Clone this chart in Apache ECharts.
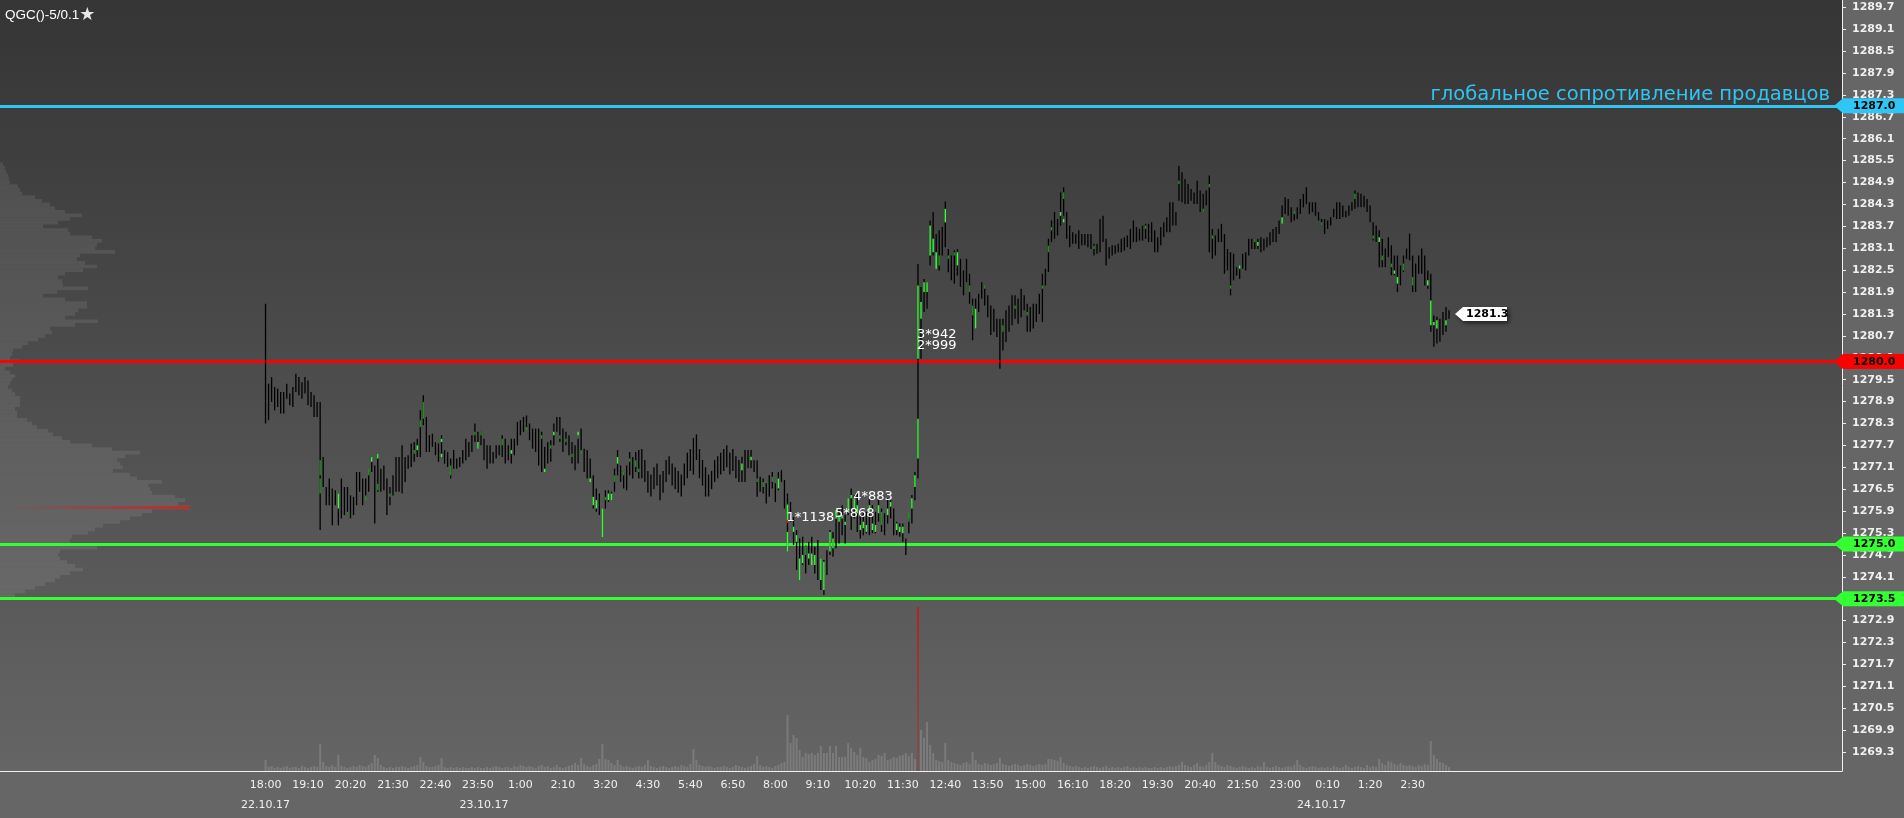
<!DOCTYPE html>
<html><head><meta charset="utf-8">
<script src="https://cdn.jsdelivr.net/npm/echarts@6/dist/echarts.min.js"></script>
<style>html,body{margin:0;padding:0;background:#666;}#c{width:1904px;height:818px;}</style>
</head><body><div id="c"></div>
<script>
const titleText = 'QGC()-5/0.1';
const timeLabels = ['18:00','19:10','20:20','21:30','22:40','23:50','1:00','2:10','3:20','4:30','5:40','6:50','8:00','9:10','10:20','11:30','12:40','13:50','15:00','16:10','18:20','19:30','20:40','21:50','23:00','0:10','1:20','2:30'];
const dateLabels = ['22.10.17','23.10.17','24.10.17'];
const dateBarIndex = [0, 72, 348];
const barHigh = [
1281.58,1279.39,1279.57,1279.30,1279.25,1279.16,1279.16,1279.39,1279.12,1279.30,
1279.66,1279.57,1279.43,1279.57,1279.48,1279.16,1279.07,1278.89,1278.89,1277.38,
1276.56,1276.79,1276.52,1276.47,1276.38,1276.79,1276.56,1276.56,1276.33,1276.29,
1276.97,1276.97,1276.79,1276.79,1276.97,1277.38,1277.15,1277.47,1277.06,1277.15,
1276.79,1276.56,1276.88,1277.38,1277.38,1277.70,1277.38,1277.43,1277.75,1277.79,
1277.88,1278.66,1279.07,1278.48,1277.98,1278.02,1277.79,1277.75,1277.98,1277.57,
1277.52,1277.34,1277.57,1277.34,1277.38,1277.57,1277.88,1277.79,1277.98,1278.30,
1278.07,1278.07,1277.88,1277.70,1277.70,1277.52,1277.70,1277.70,1277.98,1277.88,
1277.70,1277.88,1277.88,1278.34,1278.39,1278.48,1278.52,1278.30,1278.16,1278.16,
1278.16,1278.07,1277.66,1277.79,1277.84,1278.30,1278.48,1278.48,1278.16,1278.07,
1277.98,1277.79,1277.70,1277.88,1278.16,1277.61,1277.57,1277.34,1276.88,1276.52,
1276.38,1275.97,1276.47,1276.47,1276.43,1277.06,1277.57,1277.15,1276.97,1277.15,
1277.52,1277.38,1277.52,1277.57,
1277.6,1277.3,1277.0,1276.9,1277.1,1277.2,1276.9,1277.0,1277.3,1277.4,
1277.2,1277.1,1277.0,1276.9,1277.2,1277.5,1277.6,1277.9,1278.0,1277.6,
1277.3,1277.1,1276.9,1277.0,1277.3,1277.4,1277.5,1277.6,1277.7,1277.5,
1277.6,1277.4,1277.3,
1277.39,1277.57,1277.57,1277.57,1277.29,1277.29,1276.84,1276.79,1276.66,1276.88,
1276.97,1276.66,1276.97,1277.02,1276.75,1276.38,1276.15,1275.74,1275.38,1275.15,
1275.20,1274.92,1275.06,1275.20,1274.92,1275.11,1274.60,1274.56,1274.83,1275.38,
1275.33,1275.79,1275.93,1276.06,1275.79,1276.25,1276.52,1276.34,1276.38,1275.93,
1275.84,1275.88,1276.25,1276.06,1275.88,1276.25,1275.97,1275.84,1276.25,1276.20,
1275.97,1275.61,1275.56,1275.56,1275.15,1275.70,1276.34,1276.97,
1282.67,
1282.04,1282.26,1282.17,1283.86,1284.09,1283.49,1283.59,1283.68,1284.38,1283.08,
1282.90,1283.04,1283.08,1282.81,1282.49,1282.81,1282.40,1281.72,1281.72,1281.85,
1282.17,1282.04,1281.81,1281.53,1281.44,1281.17,1281.17,1281.17,1281.40,1281.53,
1281.81,1281.81,1281.72,1281.99,1281.81,1281.58,1281.49,1281.58,1281.58,1281.85,
1282.40,1282.54,1283.36,1283.86,1284.09,1283.90,1284.63,1284.77,1284.09,1283.72,
1283.54,1283.49,1283.59,1283.49,1283.49,1283.49,1283.49,1283.22,1283.22,1283.90,
1283.99,1283.36,1283.13,1283.18,1283.18,
1283.22,1283.36,1283.40,1283.45,1283.63,1283.86,1283.68,1283.63,1283.72,1283.77,
1283.77,1283.81,1283.59,1283.40,1283.68,1283.81,1283.95,1284.36,1284.36,1284.09,
1285.36,1285.18,1285.00,1284.86,1284.72,1284.63,1284.95,1284.68,1284.59,1284.68,
1285.09,1283.63,1283.45,1283.63,1283.77,1283.49,1283.08,1282.99,1282.95,1282.58,
1282.63,1282.95,1282.99,1283.36,1283.36,1283.36,1283.36,1283.40,1283.36,1283.40,
1283.54,1283.63,1283.68,1283.86,1284.27,1284.50,1284.45,1284.22,1284.13,1284.22,
1284.45,1284.59,1284.77,1284.36,1284.36,1284.36,1284.09,1283.90,1283.90,1283.86,
1283.95,1284.18,1284.36,1284.36,1284.27,1284.13,1284.27,1284.36,1284.68,1284.63,
1284.59,1284.54,1284.45,1284.27,1283.81,1283.72,
1283.59,1283.36,1283.09,1283.40,1283.18,1282.90,1282.90,1282.63,1282.90,1283.09,
1283.50,1282.90,1282.68,1282.90,1283.09,1282.90,1282.49,1282.40,1281.26,1281.22,
1281.17,1281.35,1281.49,1281.40];
const barLow = [
1278.30,1278.39,1278.89,1278.66,1278.75,1278.57,1278.57,1278.98,1278.80,1278.75,
1279.16,1279.07,1278.98,1279.12,1278.80,1278.75,1278.48,1278.48,1275.38,1276.56,
1276.06,1276.06,1275.51,1276.06,1275.51,1275.70,1275.79,1275.79,1275.70,1275.79,
1276.06,1276.43,1276.06,1276.33,1276.43,1276.97,1275.56,1276.43,1276.43,1276.47,
1275.79,1276.06,1276.33,1276.43,1276.43,1276.38,1276.70,1277.06,1277.11,1277.25,
1277.38,1277.38,1278.25,1277.52,1277.52,1277.66,1277.43,1277.25,1277.38,1277.20,
1277.11,1276.79,1277.06,1277.06,1277.11,1277.20,1277.29,1277.38,1277.52,1277.79,
1277.61,1277.70,1277.29,1277.06,1277.20,1277.20,1277.34,1277.43,1277.38,1277.20,
1277.29,1277.20,1277.43,1277.70,1277.98,1278.07,1278.20,1277.84,1277.61,1277.52,
1277.15,1276.97,1277.02,1277.20,1277.25,1277.70,1278.07,1277.79,1277.52,1277.70,
1277.43,1277.20,1277.02,1277.20,1277.52,1276.97,1276.79,1276.79,1275.97,1275.88,
1275.79,1275.19,1275.97,1276.15,1276.20,1276.43,1276.88,1276.70,1276.52,1276.47,
1276.88,1276.79,1276.97,1276.79,
1276.8,1276.7,1276.4,1276.3,1276.5,1276.6,1276.2,1276.4,1276.7,1276.9,
1276.6,1276.5,1276.4,1276.3,1276.6,1276.8,1277.0,1276.9,1277.3,1276.8,
1276.6,1276.3,1276.3,1276.5,1276.7,1276.8,1276.9,1277.0,1277.1,1276.9,
1277.0,1276.8,1276.7,
1276.70,1276.70,1277.07,1277.07,1276.97,1276.29,1276.43,1276.38,1276.11,1276.29,
1276.52,1276.15,1276.47,1276.70,1275.97,1274.79,1275.61,1274.97,1274.29,1274.01,
1274.42,1274.19,1274.42,1274.56,1274.19,1274.01,1273.74,1273.60,1274.15,1274.70,
1274.65,1274.88,1275.01,1275.24,1275.01,1275.79,1275.38,1275.70,1275.33,1275.15,
1275.24,1275.29,1275.24,1275.29,1275.29,1275.61,1275.33,1275.24,1275.56,1275.70,
1275.24,1275.24,1275.20,1275.06,1274.70,1275.29,1275.56,1276.20,
1276.79,
1280.07,1281.35,1281.44,1282.63,1282.90,1282.90,1282.49,1282.90,1283.13,1282.44,
1282.22,1282.13,1282.35,1282.04,1281.81,1282.17,1281.58,1280.58,1280.90,1281.35,
1281.72,1281.53,1281.21,1280.72,1280.81,1280.67,1279.80,1280.30,1280.53,1280.81,
1280.99,1281.17,1281.03,1281.21,1281.40,1280.81,1280.81,1280.90,1281.08,1281.30,
1281.08,1282.08,1282.45,1283.27,1283.36,1283.45,1283.72,1283.99,1283.36,1283.13,
1283.22,1283.22,1283.08,1283.18,1283.18,1283.13,1283.08,1282.90,1282.95,1282.99,
1283.27,1282.63,1282.81,1282.90,1282.95,
1282.99,1282.99,1283.04,1283.13,1283.08,1283.27,1283.27,1283.31,1283.31,1283.36,
1283.27,1283.27,1282.99,1282.99,1283.18,1283.40,1283.54,1283.54,1283.72,1283.72,
1284.40,1284.36,1284.31,1284.31,1284.40,1284.31,1284.31,1284.09,1284.09,1284.27,
1282.99,1282.81,1282.90,1283.27,1283.27,1282.40,1282.49,1281.81,1282.22,1282.35,
1282.26,1282.54,1282.49,1282.90,1283.08,1283.08,1283.08,1282.99,1283.04,1283.13,
1283.18,1283.27,1283.27,1283.49,1283.77,1284.04,1283.99,1283.81,1283.86,1283.90,
1284.04,1284.22,1284.31,1284.04,1284.09,1283.99,1283.86,1283.72,1283.49,1283.63,
1283.72,1283.95,1283.90,1283.90,1283.95,1283.95,1283.99,1284.13,1284.18,1284.22,
1284.22,1284.22,1284.09,1283.81,1283.31,1283.27,
1282.58,1282.58,1282.58,1282.86,1282.36,1282.36,1281.90,1282.08,1282.45,1282.81,
1282.77,1281.90,1281.90,1282.40,1282.40,1282.08,1281.99,1280.81,1280.40,1280.49,
1280.54,1280.72,1280.81,1281.17];
// coloured segments inside bars: bar index, low, high, kind (0 dark green, 1 bright green, 2 red)
const segBar = [18,18,24,27,33,34,35,37,37,41,49,50,51,52,58,58,61,69,70,71,78,81,86,91,92,94,95,97,99,101,103,104,107,108,109,111,112,113,114,115,116,118,120,122,123,
157,160,162,164,167,169,172,172,172,174,175,176,177,178,179,180,181,183,184,186,187,188,189,190,191,192,193,194,195,196,197,198,199,200,201,202,203,205,206,208,209,210,212,213,214,215,215,
216,217,218,219,220,221,222,224,225,227,228,232,233,234,237,243,247,251,256,258,259,262,263,263,273,290,301,309,311,312,318,321,326,327,335,339,348,359,365,
367,368,371,372,373,375,378,383,384,385,386,389];
const segLow = [1276.88,1276.38,1275.97,1275.79,1276.20,1276.88,1277.25,1277.34,1276.47,1276.29,1277.47,1277.57,1278.20,1278.43,1277.79,1277.38,1276.88,1277.98,1277.61,1277.98,1277.70,1277.47,1278.11,1277.88,1276.97,1277.61,1277.98,1277.88,1277.79,1277.38,1277.98,1277.47,1276.70,1276.06,1275.97,1275.19,1276.20,1276.20,1276.20,1276.70,1277.20,1276.88,1277.25,1277.11,1276.97,
1277.02,1277.29,1276.70,1276.56,1276.70,1276.52,1275.65,1274.79,1275.58,1275.33,1275.06,1274.01,1274.47,1274.70,1274.60,1274.42,1274.42,1274.01,1273.74,1274.79,1274.88,1275.70,1275.61,1275.70,1275.52,1275.88,1276.25,1275.97,1275.84,1275.38,1275.43,1275.33,1275.88,1275.38,1275.33,1275.84,1275.52,1275.79,1276.02,1275.38,1275.33,1275.29,1275.61,1275.97,1276.56,1277.34,1280.07,
1281.17,1281.90,1281.90,1282.90,1282.99,1282.54,1282.63,1283.81,1282.81,1282.90,1282.63,1281.90,1281.26,1280.90,1281.99,1280.81,1281.44,1281.26,1281.99,1282.99,1283.59,1283.99,1284.45,1283.81,1283.08,1283.63,1284.86,1284.09,1284.77,1283.36,1281.99,1282.54,1283.27,1283.17,1283.77,1284.04,1283.72,1284.45,1283.36,
1283.27,1282.77,1282.58,1282.40,1282.13,1282.49,1282.08,1282.08,1280.99,1280.99,1280.90,1280.99];
const segHigh = [1277.29,1276.79,1276.38,1275.88,1276.29,1277.06,1277.38,1277.47,1276.65,1276.38,1277.57,1277.70,1278.39,1278.89,1277.88,1277.47,1277.15,1278.07,1277.79,1278.07,1277.88,1277.57,1278.20,1277.98,1277.06,1277.70,1278.07,1277.98,1277.88,1277.47,1278.07,1277.57,1276.79,1276.29,1276.20,1275.97,1276.29,1276.38,1276.38,1276.88,1277.38,1276.97,1277.34,1277.29,1277.06,
1277.20,1277.39,1276.79,1276.70,1276.84,1276.79,1276.08,1275.33,1275.66,1275.47,1275.24,1274.60,1274.70,1274.97,1274.74,1274.74,1274.70,1274.60,1274.51,1275.33,1275.15,1275.93,1275.79,1275.79,1275.61,1276.25,1276.34,1276.25,1276.06,1275.52,1275.61,1275.52,1276.06,1275.56,1275.52,1276.06,1275.88,1275.97,1276.15,1275.56,1275.47,1275.47,1275.88,1276.25,1276.88,1278.43,1282.08,
1281.63,1282.17,1282.17,1283.72,1283.36,1282.99,1282.90,1284.18,1282.90,1282.99,1282.99,1282.08,1281.53,1281.44,1282.08,1280.99,1281.53,1281.35,1282.08,1283.17,1283.68,1284.09,1284.63,1283.90,1283.17,1283.72,1284.95,1284.18,1284.86,1283.45,1282.08,1282.63,1283.36,1283.27,1283.95,1284.13,1283.81,1284.59,1283.45,
1283.40,1282.90,1282.68,1282.49,1282.31,1282.68,1282.31,1282.22,1281.67,1281.08,1281.13,1281.13];
const segKind = [0,0,1,0,0,0,1,1,0,0,0,1,0,0,1,1,0,0,1,0,0,1,0,0,1,0,1,0,0,0,1,0,1,1,1,1,0,1,1,0,1,0,0,0,0,
1,1,0,0,0,1,1,1,2,1,1,1,1,0,1,1,1,1,1,1,1,1,1,1,1,1,1,1,1,1,1,1,1,1,1,1,0,1,1,1,1,1,0,1,1,1,1,
1,1,1,1,1,1,0,1,0,0,1,0,0,1,0,0,0,0,0,0,0,1,0,1,0,0,0,0,0,0,0,1,0,1,1,0,0,0,0,
1,0,0,1,1,0,0,1,1,1,1,1];
const volume = [
110,40,50,30,40,30,40,50,30,40, 40,30,50,40,30,40,50,40,270,90,
50,40,60,40,160,50,40,30,40,50, 40,60,50,40,60,80,160,130,60,40,
30,40,30,40,40,50,40,30,40,50, 60,140,90,50,40,40,50,60,130,40,
30,40,30,40,30,40,30,30,40,30, 40,30,30,40,30,40,50,40,30,40,
40,30,50,40,60,50,40,50,40,30, 50,60,40,50,30,40,60,40,30,40,
50,60,80,60,130,70,50,40,60,70, 120,270,120,110,80,60,110,60,40,50,
40,30,40,50,40,60,110,50,40,30, 40,50,40,30,40,50,40,60,50,40,
70,220,110,60,50,40,50,40,30,40, 40,50,40,30,40,60,50,40,30,40,
50,70,150,60,40,50,40,30,50,60, 80,90,560,280,360,330,210,140,180,170,
180,160,180,250,180,180,250,180,250,140, 140,140,280,230,190,160,230,140,130,90,
110,120,160,150,180,110,120,140,130,150, 160,180,150,180,120,1640,410,330,490,260,
180,110,100,90,280,110,90,80,70,60, 80,90,70,190,110,70,60,80,70,60,
70,80,130,70,60,50,60,70,60,50, 60,70,60,50,60,70,60,70,120,120,
110,100,140,80,60,50,40,50,40,30, 40,30,40,50,40,30,40,50,30,40,
30,40,30,40,50,30,40,30,40,30, 40,30,30,40,30,40,30,40,50,40,
50,60,90,60,50,40,60,80,50,40, 60,90,180,90,60,50,40,60,50,40,
30,40,50,40,30,40,30,50,40,90, 40,30,40,50,40,30,40,50,40,60,
110,60,40,30,40,50,40,30,40,30, 40,30,50,40,30,40,60,40,30,40,
50,40,30,60,40,50,40,120,80,60, 100,90,70,60,80,60,50,60,50,40,
60,50,70,60,300,160,120,90,80,60, 40];
const profileTopPrice = 1285.4;
const profileStep = 0.1;
const profileVolume = [
30,50,60,80,90,100,180,200,220,350, 420,500,550,650,820,700,580,430,680,700,
920,1020,970,950,1150,800,770,850,970,830, 650,580,620,630,880,570,430,650,870,870,
780,750,650,980,750,500,520,450,380,280, 220,130,120,100,200,130,50,100,150,120,
100,80,120,150,200,200,200,150,170,170, 270,320,370,480,530,620,700,920,1120,1400,
1250,1170,1200,1230,1130,1300,1370,1620,1480,1500, 1520,1750,1850,1780,1900,1520,1420,1300,1200,1030,
950,880,720,700,700,970,600,580,600,670, 750,830,700,600,550,450,350,250,150];
const levelPrices = [1287.0, 1280.0, 1275.0, 1273.5];
const levelColors = ['#2fc6f5', '#ff0000', '#33ff33', '#33ff33'];
const levelNote = 'глобальное сопротивление продавцов';
const lastPrice = 1281.3;
const clusterText = ['1*1138', '5*868', '4*883', '3*942', '2*999'];
const clusterBar = [172, 188, 194, 215, 215];
const clusterPrice = [1275.78, 1275.89, 1276.36, 1280.79, 1280.49];

const LEAD = 87, SLOTS = 607, STEP = 14;
const Y_MIN = 1268.78, Y_MAX = 1289.90, TICK = 0.6, TICK_MIN = 1268.70;
const PX_PER_UNIT = (818 - 47) / (Y_MAX - Y_MIN);
const segColors = ['#1d8f1d', '#3cf53c', '#e02020'];

const slots = Array.from({length: SLOTS}, (_, k) => String(k));
const timeAt = k => { const r = k - LEAD; return (r >= 0 && r % STEP === 0 && r / STEP < timeLabels.length) ? timeLabels[r / STEP] : null; };
const dateAt = k => { const j = dateBarIndex.indexOf(k - LEAD); return j >= 0 ? dateLabels[j] : null; };

const chart = echarts.init(document.getElementById('c'), null, {renderer: 'canvas'});
const gridBg = new echarts.graphic.LinearGradient(0, 0, 0, 1, [{offset: 0, color: '#353535'}, {offset: 1, color: '#656565'}]);
const maxVol = Math.max(...volume);
const maxProfile = Math.max(...profileVolume);

chart.setOption({
  animation: false,
  backgroundColor: '#666666',
  title: {text: '{a|' + titleText + '}{s|\u2605}', left: 0, top: 1,
    textStyle: {fontWeight: 'normal', rich: {a: {color: '#ffffff', fontSize: 13.5, fontWeight: 'normal', fontFamily: 'Liberation Sans'}, s: {color: '#e8e8e8', fontSize: 18, fontWeight: 'normal', fontFamily: 'DejaVu Sans'}}}},
  grid: [
    {left: 0, right: 62, top: 0, bottom: 47, show: true, backgroundColor: gridBg, borderWidth: 0},
    {left: 0, right: 62, bottom: 47, height: 200, show: false},
    {left: 0, width: 200, top: 0, bottom: 47, show: false},
    {left: 0, right: 62, top: 0, bottom: 47 - (Y_MIN - TICK_MIN) * PX_PER_UNIT, show: false}
  ],
  xAxis: [
    {type: 'category', gridIndex: 0, data: slots, boundaryGap: true,
     axisLine: {onZero: false, lineStyle: {color: '#f0f0f0', width: 1}},
     axisTick: {alignWithLabel: true, length: 4, interval: (i) => timeAt(i) !== null, lineStyle: {color: '#f0f0f0'}},
     axisLabel: {interval: (i) => timeAt(i) !== null, formatter: (v, i) => timeAt(i) || '', color: '#f0f0f0', fontSize: 11, fontFamily: 'DejaVu Sans', margin: 9},
     splitLine: {show: false}},
    {type: 'category', gridIndex: 0, data: slots, boundaryGap: true, position: 'bottom',
     axisLine: {show: false, onZero: false}, axisTick: {show: false},
     axisLabel: {interval: (i) => dateAt(i) !== null, formatter: (v, i) => dateAt(i) || '', color: '#f0f0f0', fontSize: 11, fontFamily: 'DejaVu Sans', margin: 29},
     splitLine: {show: false}},
    {type: 'category', gridIndex: 1, data: slots, boundaryGap: true, show: false},
    {type: 'value', gridIndex: 2, min: 0, max: 2000, show: false},
    {type: 'category', gridIndex: 3, data: slots, show: false}
  ],
  yAxis: [
    {type: 'value', gridIndex: 0, position: 'right', min: Y_MIN, max: Y_MAX,
     axisLine: {show: true, onZero: false, lineStyle: {color: '#f0f0f0', width: 1}}, axisTick: {show: false}, axisLabel: {show: false}, splitLine: {show: false}},
    {type: 'value', gridIndex: 3, position: 'right', min: TICK_MIN, max: Y_MAX, interval: TICK,
     axisLine: {show: false, onZero: false},
     axisTick: {show: true, inside: false, length: 4, lineStyle: {color: '#f0f0f0'}},
     axisLabel: {color: '#f0f0f0', fontSize: 11, fontWeight: 'bold', fontFamily: 'DejaVu Sans', margin: 10,
       showMinLabel: false, showMaxLabel: false, formatter: v => v.toFixed(1)},
     splitLine: {show: false}},
    {type: 'value', gridIndex: 1, min: 0, max: 2000, show: false},
    {type: 'value', gridIndex: 2, min: Y_MIN, max: Y_MAX, show: false}
  ],
  series: [
    {type: 'bar', xAxisIndex: 2, yAxisIndex: 2, barWidth: 2, z: 2,
     data: slots.map((s, k) => {
       const i = k - LEAD;
       if (i < 0 || i >= volume.length) return '-';
       const v = volume[i];
       if (v === maxVol) return {value: v, itemStyle: {color: new echarts.graphic.LinearGradient(0, 0, 0, 1, [{offset: 0, color: '#b82020'}, {offset: 1, color: 'rgba(150,60,60,0.5)'}])}};
       return {value: v, itemStyle: {color: 'rgba(255,255,255,0.15)'}};
     })},
    {type: 'line', xAxisIndex: 0, yAxisIndex: 0, data: [], z: 3,
     markLine: {symbol: 'none', silent: true, animation: false,
       data: levelPrices.map((p, k) => ({yAxis: p,
         lineStyle: {color: levelColors[k], width: 3, type: 'solid'},
         label: k === 0 ? {show: true, position: 'insideEndTop', formatter: levelNote, color: levelColors[0], fontSize: 19.5, fontFamily: 'DejaVu Sans', distance: [12, 1]} : {show: false}}))}},
    {type: 'custom', xAxisIndex: 3, yAxisIndex: 3, z: 4,
     data: profileVolume.map((v, r) => [v, profileTopPrice - r * profileStep]),
     renderItem: (params, api) => {
       const v = api.value(0), p = api.value(1);
       const a = api.coord([0, p + profileStep / 2]);
       const b = api.coord([v, p - profileStep / 2]);
       const children = [{type: 'rect', shape: {x: a[0], y: a[1], width: b[0] - a[0], height: b[1] - a[1]}, style: {fill: 'rgba(255,255,255,0.085)'}}];
       if (v === maxProfile) {
         const c = api.coord([0, p]);
         children.push({type: 'rect', shape: {x: c[0] + 4, y: c[1] - 1.5, width: b[0] - c[0] - 4, height: 3},
           style: {fill: new echarts.graphic.LinearGradient(0, 0, 1, 0, [{offset: 0, color: 'rgba(190,40,40,0)'}, {offset: 1, color: 'rgba(200,40,40,0.95)'}])}});
       }
       return {type: 'group', children};
     }},
    {type: 'custom', xAxisIndex: 0, yAxisIndex: 0, z: 5,
     data: barHigh.map((h, i) => [LEAD + i, h, barLow[i]]),
     renderItem: (params, api) => {
       const t = api.coord([api.value(0), api.value(1)]);
       const b = api.coord([api.value(0), api.value(2)]);
       return {type: 'rect', shape: {x: t[0] - 0.65, y: t[1], width: 1.3, height: Math.max(1, b[1] - t[1])}, style: {fill: '#000000'}};
     }},
    {type: 'custom', xAxisIndex: 0, yAxisIndex: 0, z: 6,
     data: segBar.map((b, k) => [LEAD + b, segHigh[k], segLow[k], segKind[k]]),
     renderItem: (params, api) => {
       const t = api.coord([api.value(0), api.value(1)]);
       const b = api.coord([api.value(0), api.value(2)]);
       return {type: 'rect', shape: {x: t[0] - 0.75, y: t[1], width: 1.5, height: Math.max(2, b[1] - t[1])}, style: {fill: segColors[api.value(3)]}};
     }},
    {type: 'custom', xAxisIndex: 0, yAxisIndex: 0, z: 7,
     data: clusterText.map((t, k) => [LEAD + clusterBar[k], clusterPrice[k], k]),
     renderItem: (params, api) => {
       const c = api.coord([api.value(0), api.value(1)]);
       return {type: 'text', style: {text: clusterText[api.value(2)], x: c[0] - 1, y: c[1] + 2.5, fill: '#ffffff', font: '13px DejaVu Sans', verticalAlign: 'middle', align: 'left'}};
     }},
    {type: 'custom', xAxisIndex: 0, yAxisIndex: 0, z: 8, clip: false,
     data: levelPrices.map((p, k) => [0, p, k]),
     renderItem: (params, api) => {
       const p = api.value(1), k = api.value(2);
       const y = api.coord([0, p])[1];
       const right = params.coordSys.x + params.coordSys.width;
       const W = api.getWidth();
       return {type: 'group', children: [
         {type: 'polygon', shape: {points: [[right - 8, y], [right + 1, y - 7.5], [W, y - 7.5], [W, y + 7.5], [right + 1, y + 7.5]]}, style: {fill: levelColors[k]}},
         {type: 'text', style: {text: p.toFixed(1), x: right + 11, y: y + 0.5, fill: '#000000', font: 'bold 11px DejaVu Sans', verticalAlign: 'middle', align: 'left'}}
       ]};
     }},
    {type: 'custom', xAxisIndex: 0, yAxisIndex: 0, z: 9, clip: false,
     data: [[LEAD + barHigh.length - 1, lastPrice]],
     renderItem: (params, api) => {
       const c = api.coord([api.value(0), api.value(1)]);
       const x0 = c[0] + 6, y = c[1];
       return {type: 'group', children: [
         {type: 'polygon', shape: {points: [[x0, y], [x0 + 8, y - 7], [x0 + 52, y - 7], [x0 + 52, y + 7], [x0 + 8, y + 7]]},
          style: {fill: '#ffffff', shadowBlur: 4, shadowOffsetX: 2, shadowOffsetY: 2, shadowColor: 'rgba(0,0,0,0.6)'}},
         {type: 'text', style: {text: api.value(1).toFixed(1), x: x0 + 11, y: y + 0.5, fill: '#000000', font: 'bold 11px DejaVu Sans', verticalAlign: 'middle', align: 'left'}}
       ]};
     }}
  ]
});
</script></body></html>
